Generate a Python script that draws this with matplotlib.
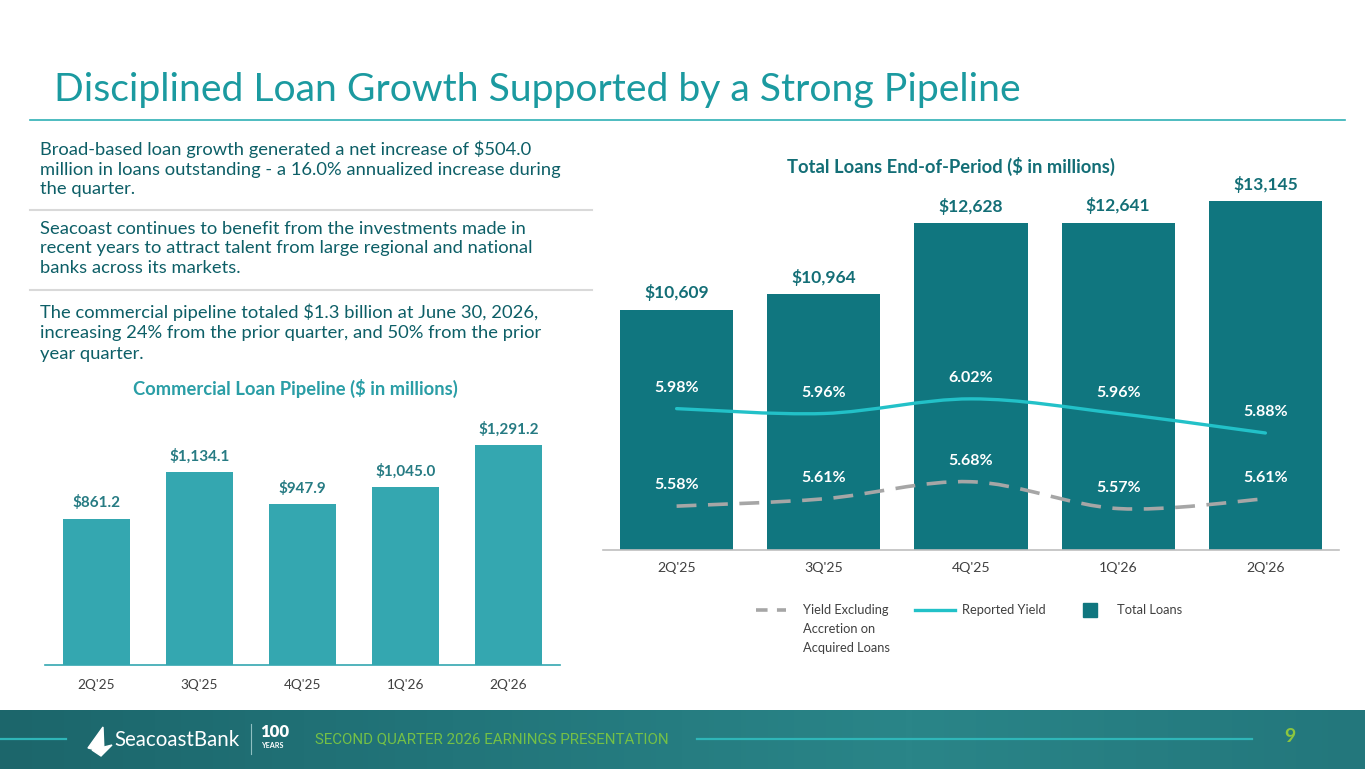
import matplotlib
matplotlib.use("Agg")
import matplotlib.pyplot as plt
import numpy as np
from matplotlib.path import Path
from matplotlib.patches import PathPatch, Polygon, Rectangle
from matplotlib.lines import Line2D
from matplotlib.colors import LinearSegmentedColormap

# ---------------- data ----------------
quarters = ["2Q'25", "3Q'25", "4Q'25", "1Q'26", "2Q'26"]
pipeline = [861.2, 1134.1, 947.9, 1045.0, 1291.2]
pipeline_labels = ["$861.2", "$1,134.1", "$947.9", "$1,045.0", "$1,291.2"]
total_loans = [10609, 10964, 12628, 12641, 13145]
total_loans_labels = ["$10,609", "$10,964", "$12,628", "$12,641", "$13,145"]
reported_yield = [5.98, 5.96, 6.02, 5.96, 5.88]
yield_ex_accretion = [5.58, 5.61, 5.68, 5.57, 5.61]

bullets = [
    "Broad-based loan growth generated a net increase of $504.0\nmillion in loans outstanding - a 16.0% annualized increase during\nthe quarter.",
    "Seacoast continues to benefit from the investments made in\nrecent years to attract talent from large regional and national\nbanks across its markets.",
    "The commercial pipeline totaled $1.3 billion at June 30, 2026,\nincreasing 24% from the prior quarter, and 50% from the prior\nyear quarter.",
]

FONT = ["Lato", "DejaVu Sans"]
plt.rcParams["font.family"] = FONT

W, H = 1365, 769
fig = plt.figure(figsize=(W / 100, H / 100), dpi=100)
fig.patch.set_facecolor("white")


def fx(x):
    return x / W


def fy(y):
    return 1 - y / H


def axes_px(x0, y0, x1, y1, **kw):
    return fig.add_axes([fx(x0), fy(y1), (x1 - x0) / W, (y1 - y0) / H], **kw)


TITLE_C = "#1b9aa0"
BODY_C = "#0d5f67"
DARK_TEAL = "#136e76"
BAR_R = "#10767f"
BAR_L = "#34a7b0"
CYAN = "#22c1c8"
GRAY = "#a6a6a6"
TICK_C = "#404040"

# ---------------- title ----------------
fig.text(fx(54), fy(90), "Disciplined Loan Growth Supported by a Strong Pipeline",
         fontsize=28.2, color=TITLE_C, ha="left", va="center")
fig.add_artist(Line2D([fx(30), fx(1345)], [fy(120), fy(120)], color="#2fb0b5", lw=1.2))

# ---------------- bullets ----------------
para_y = [150, 230, 312]
para_ls = [1.26, 1.26, 1.38]
for txt, y, ls in zip(bullets, para_y, para_ls):
    fig.text(fx(40), fy(y - 9), txt, fontsize=13.2, color=BODY_C, ha="left", va="top",
             linespacing=ls)
for y in [210, 290]:
    fig.add_artist(Line2D([fx(30), fx(592)], [fy(y), fy(y)], color="#d9d9d9", lw=1.5))

# ---------------- left chart ----------------
axL = axes_px(45, 410, 560, 665)
xl = np.arange(len(quarters))
axL.bar(xl, pipeline, width=0.66, color=BAR_L, zorder=2)
axL.set_xlim(-0.5, len(quarters) - 0.5)
axL.set_ylim(0, 1500)
for s in ["top", "right", "left"]:
    axL.spines[s].set_visible(False)
axL.spines["bottom"].set_color(BAR_L)
axL.spines["bottom"].set_linewidth(1.2)
axL.set_yticks([])
axL.set_xticks(xl)
axL.set_xticklabels(quarters, fontsize=9.8, color=TICK_C)
axL.tick_params(axis="x", length=0, pad=10)
for xi, v, lab in zip(xl, pipeline, pipeline_labels):
    axL.annotate(lab, (xi, v), xytext=(0, 6), textcoords="offset points",
                 ha="center", va="bottom", fontsize=11, fontweight="bold", color="#267b83")
fig.text(fx(295), fy(388), "Commercial Loan Pipeline ($ in millions)", fontsize=13.2,
         fontweight="bold", color="#2a9ea6", ha="center", va="center")

# ---------------- right chart ----------------
axR = axes_px(603, 160, 1339, 550)
xr = np.arange(len(quarters))
axR.bar(xr, total_loans, width=0.77, color=BAR_R, zorder=1)
axR.set_xlim(-0.5, len(quarters) - 0.5)
axR.set_ylim(5000, 14100)
for s in ["top", "right", "left"]:
    axR.spines[s].set_visible(False)
axR.spines["bottom"].set_color("#bfbfbf")
axR.spines["bottom"].set_linewidth(1.2)
axR.set_yticks([])
axR.set_xticks(xr)
axR.set_xticklabels(quarters, fontsize=10.2, color=TICK_C)
axR.tick_params(axis="x", length=0, pad=9)
for xi, v, lab in zip(xr, total_loans, total_loans_labels):
    axR.annotate(lab, (xi, v), xytext=(0, 6), textcoords="offset points",
                 ha="center", va="bottom", fontsize=12.5, fontweight="bold", color=DARK_TEAL)

axY = axR.twinx()
axY.set_ylim(5.40, 7.00)
axY.axis("off")


def smooth_path(xs, ys):
    pts = np.column_stack([xs, ys]).astype(float)
    n = len(pts)
    verts = [pts[0]]
    codes = [Path.MOVETO]
    for i in range(n - 1):
        p0 = pts[i - 1] if i > 0 else pts[i]
        p1 = pts[i]
        p2 = pts[i + 1]
        p3 = pts[i + 2] if i + 2 < n else pts[i + 1]
        c1 = p1 + (p2 - p0) / 6.0
        c2 = p2 - (p3 - p1) / 6.0
        verts += [c1, c2, p2]
        codes += [Path.CURVE4] * 3
    return Path(verts, codes)


axY.add_patch(PathPatch(smooth_path(xr, reported_yield), fill=False, edgecolor=CYAN,
                        lw=2.4, capstyle="round", zorder=3))
axY.add_patch(PathPatch(smooth_path(xr, yield_ex_accretion), fill=False, edgecolor=GRAY,
                        lw=2.6, linestyle=(0, (5.5, 3.2)), capstyle="butt", zorder=3))
for xi, v in zip(xr, reported_yield):
    axY.annotate(f"{v:.2f}%", (xi, v), xytext=(0, 10), textcoords="offset points",
                 ha="center", va="bottom", fontsize=11.5, fontweight="bold", color="white")
for xi, v in zip(xr, yield_ex_accretion):
    axY.annotate(f"{v:.2f}%", (xi, v), xytext=(0, 10), textcoords="offset points",
                 ha="center", va="bottom", fontsize=11.5, fontweight="bold", color="white")

fig.text(fx(951), fy(166), "Total Loans End-of-Period ($ in millions)", fontsize=13.2,
         fontweight="bold", color=DARK_TEAL, ha="center", va="center")

# ---------------- legend ----------------
fig.add_artist(Line2D([fx(756), fx(786)], [fy(610), fy(610)], color=GRAY, lw=2.6,
                      linestyle=(0, (3.2, 2.6))))
fig.text(fx(803), fy(604), "Yield Excluding\nAccretion on\nAcquired Loans", fontsize=9.3,
         color=TICK_C, ha="left", va="top", linespacing=1.68)
fig.add_artist(Line2D([fx(915), fx(955)], [fy(610), fy(610)], color=CYAN, lw=2.4))
fig.text(fx(962), fy(610), "Reported Yield", fontsize=9.3, color=TICK_C, ha="left", va="center")
fig.add_artist(Rectangle((fx(1083), fy(617)), 14 / W, 14 / H, color=BAR_R))
fig.text(fx(1117), fy(610), "Total Loans", fontsize=9.3, color=TICK_C, ha="left", va="center")

# ---------------- footer ----------------
axF = axes_px(0, 710, W, H)
grad = np.linspace(0, 1, 256).reshape(1, -1)
cm = LinearSegmentedColormap.from_list("ft", ["#1c666b", "#22757a", "#2a8588", "#23777c"])
axF.imshow(grad, aspect="auto", cmap=cm, extent=[0, 1, 0, 1])
axF.set_xlim(0, 1)
axF.set_ylim(0, 1)
axF.axis("off")
fig.add_artist(Line2D([fx(0), fx(66)], [fy(739), fy(739)], color="#2fb6b8", lw=1.6))
fig.add_artist(Line2D([fx(697), fx(1252)], [fy(739), fy(739)], color="#2fb6b8", lw=1.6))
# sail logo
fig.add_artist(Polygon([(fx(88), fy(748)), (fx(103), fy(727)), (fx(104), fy(752))],
                       closed=True, color="white"))
fig.add_artist(Polygon([(fx(92), fy(750)), (fx(112), fy(745)), (fx(101), fy(756))],
                       closed=True, color="white"))
fig.text(fx(114), fy(740), "SeacoastBank", fontsize=14.8, color="white", ha="left", va="center")
fig.add_artist(Line2D([fx(251), fx(251)], [fy(724), fy(754)], color="#8fbfc1", lw=0.8))
fig.text(fx(260), fy(732), "100", fontsize=12, color="white", fontweight="heavy", ha="left",
         va="center")
fig.text(fx(261), fy(746), "YEARS", fontsize=5.2, color="white", fontweight="bold", ha="left",
         va="center")
fig.text(fx(315), fy(739), "SECOND QUARTER 2026 EARNINGS PRESENTATION", fontsize=10.9,
         color="#74c046", ha="left", va="center",
         family=["Liberation Sans Narrow", "Roboto", "DejaVu Sans"])
fig.text(fx(1290), fy(737), "9", fontsize=14, color="#8cc63f", fontweight="bold",
         ha="center", va="center")

fig.savefig("out.png", dpi=100, facecolor="white")
